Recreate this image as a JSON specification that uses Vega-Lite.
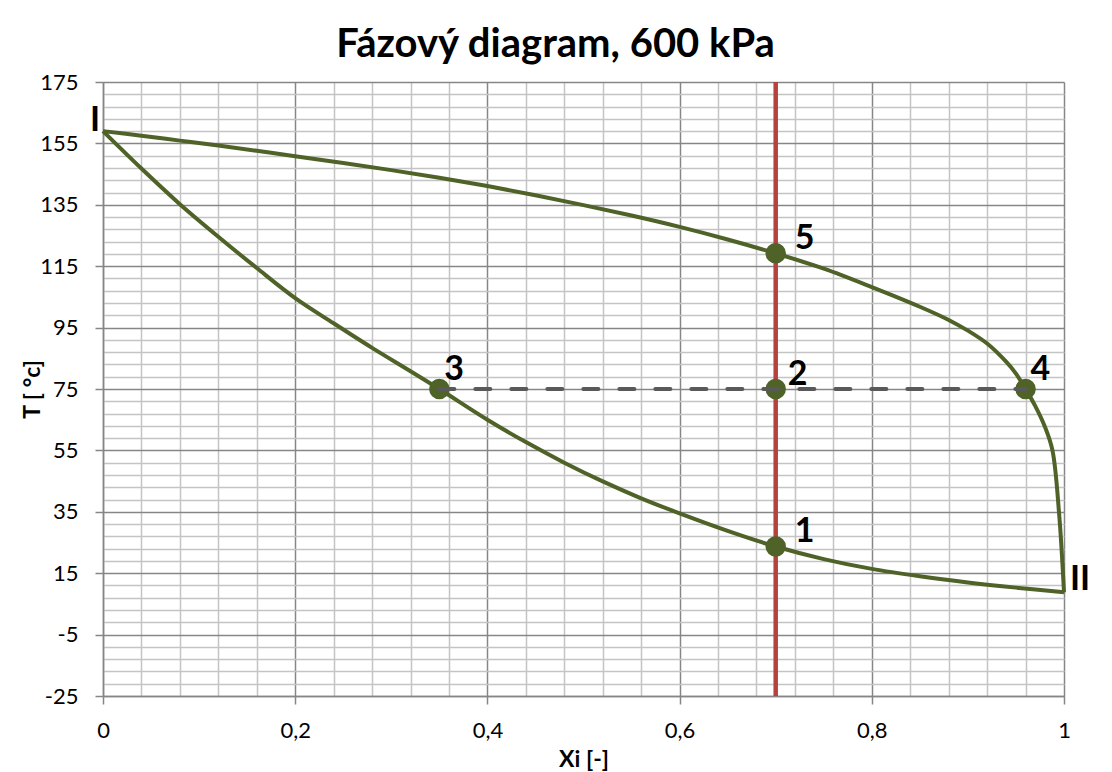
{
  "$schema": "https://vega.github.io/schema/vega-lite/v6.json",
  "autosize": {"type": "none"},
  "width": 961,
  "height": 614,
  "padding": {"left": 103, "top": 82, "right": 48, "bottom": 76},
  "background": "white",
  "title": {
    "text": "Fázový diagram, 600 kPa",
    "font": "Lato",
    "fontSize": 40,
    "fontWeight": "bold",
    "color": "#000000",
    "offset": 6,
    "frame": "bounds",
    "anchor": "middle"
  },
  "config": {"view": {"stroke": null}, "font": "Lato"},
  "datasets": {
    "curves": [
      {"curve": "lower", "x": 0, "T": 159},
      {"curve": "lower", "x": 0.04, "T": 146.8},
      {"curve": "lower", "x": 0.08, "T": 135.2},
      {"curve": "lower", "x": 0.12, "T": 124.6},
      {"curve": "lower", "x": 0.16, "T": 114.4},
      {"curve": "lower", "x": 0.2, "T": 104.6},
      {"curve": "lower", "x": 0.24, "T": 96.4},
      {"curve": "lower", "x": 0.28, "T": 88.4},
      {"curve": "lower", "x": 0.32, "T": 80.8},
      {"curve": "lower", "x": 0.35, "T": 75},
      {"curve": "lower", "x": 0.4, "T": 65.0},
      {"curve": "lower", "x": 0.44, "T": 57.7},
      {"curve": "lower", "x": 0.48, "T": 51.0},
      {"curve": "lower", "x": 0.52, "T": 44.9},
      {"curve": "lower", "x": 0.56, "T": 39.4},
      {"curve": "lower", "x": 0.6, "T": 34.5},
      {"curve": "lower", "x": 0.65, "T": 28.8},
      {"curve": "lower", "x": 0.7, "T": 23.7},
      {"curve": "lower", "x": 0.75, "T": 19.6},
      {"curve": "lower", "x": 0.8, "T": 16.4},
      {"curve": "lower", "x": 0.85, "T": 14.0},
      {"curve": "lower", "x": 0.9, "T": 12.0},
      {"curve": "lower", "x": 0.95, "T": 10.3},
      {"curve": "lower", "x": 1, "T": 8.8},
      {"curve": "upper", "x": 0, "T": 159},
      {"curve": "upper", "x": 0.04, "T": 157.5},
      {"curve": "upper", "x": 0.08, "T": 155.9},
      {"curve": "upper", "x": 0.12, "T": 154.3},
      {"curve": "upper", "x": 0.16, "T": 152.6},
      {"curve": "upper", "x": 0.2, "T": 150.8},
      {"curve": "upper", "x": 0.25, "T": 148.6},
      {"curve": "upper", "x": 0.3, "T": 146.3},
      {"curve": "upper", "x": 0.35, "T": 143.8},
      {"curve": "upper", "x": 0.4, "T": 141.1},
      {"curve": "upper", "x": 0.45, "T": 138.1},
      {"curve": "upper", "x": 0.5, "T": 134.9},
      {"curve": "upper", "x": 0.55, "T": 131.5},
      {"curve": "upper", "x": 0.6, "T": 127.8},
      {"curve": "upper", "x": 0.65, "T": 123.7},
      {"curve": "upper", "x": 0.7, "T": 119.2},
      {"curve": "upper", "x": 0.75, "T": 114.2},
      {"curve": "upper", "x": 0.8, "T": 108.2},
      {"curve": "upper", "x": 0.85, "T": 101.8},
      {"curve": "upper", "x": 0.88, "T": 97.5},
      {"curve": "upper", "x": 0.9, "T": 94.0},
      {"curve": "upper", "x": 0.92, "T": 89.8},
      {"curve": "upper", "x": 0.94, "T": 83.8},
      {"curve": "upper", "x": 0.95, "T": 80.0},
      {"curve": "upper", "x": 0.96, "T": 75},
      {"curve": "upper", "x": 0.97, "T": 69.5},
      {"curve": "upper", "x": 0.98, "T": 62.8},
      {"curve": "upper", "x": 0.988, "T": 55},
      {"curve": "upper", "x": 0.995, "T": 34},
      {"curve": "upper", "x": 1, "T": 8.8}
    ],
    "points": [
      {"label": "1", "x": 0.7, "T": 23.7},
      {"label": "2", "x": 0.7, "T": 75},
      {"label": "3", "x": 0.35, "T": 75},
      {"label": "4", "x": 0.96, "T": 75},
      {"label": "5", "x": 0.7, "T": 119.2}
    ],
    "ends": [
      {"label": "I", "x": 0, "T": 159},
      {"label": "II", "x": 1, "T": 8.8}
    ],
    "tie": [
      {"x": 0.35, "T": 75},
      {"x": 0.96, "T": 75}
    ],
    "composition": [
      {"x": 0.7}
    ]
  },
  "encoding": {
    "x": {
      "field": "x",
      "type": "quantitative",
      "scale": {"domain": [0, 1], "nice": false, "zero": false},
      "axis": {
        "title": "Xi [-]",
        "titleFont": "Lato",
        "titleFontSize": 23,
        "titleFontWeight": "bold",
        "titleColor": "#000000",
        "titleBaseline": "middle",
        "titleY": 63,
        "values": [0, 0.04, 0.08, 0.12, 0.16, 0.2, 0.24, 0.28, 0.32, 0.36, 0.4, 0.44, 0.48, 0.52, 0.56, 0.6, 0.64, 0.68, 0.72, 0.76, 0.8, 0.84, 0.88, 0.92, 0.96, 1],
        "labelExpr": "abs(datum.value*5 - round(datum.value*5)) < 0.000001 ? replace(format(datum.value, '~g'), '.', ',') : ''",
        "labelFont": "Lato",
        "labelFontSize": 22,
        "labelColor": "#000000",
        "labelPadding": 16,
        "labelOverlap": false,
        "labelBound": false,
        "labelFlush": false,
        "tickSize": 8,
        "tickWidth": 1.5,
        "tickColor": "#868686",
        "tickOpacity": {"condition": {"test": "abs(datum.value*5 - round(datum.value*5)) < 0.000001", "value": 1}, "value": 0},
        "domainColor": "#868686",
        "domainWidth": 1.5,
        "grid": true,
        "gridColor": {"condition": {"test": "abs(datum.value*5 - round(datum.value*5)) < 0.000001", "value": "#868686"}, "value": "#C4C4C4"},
        "gridWidth": 1.5
      }
    },
    "y": {
      "field": "T",
      "type": "quantitative",
      "scale": {"domain": [-25, 175], "nice": false, "zero": false},
      "axis": {
        "title": "T [ °c]",
        "titleFont": "Lato",
        "titleFontSize": 23,
        "titleFontWeight": "bold",
        "titleColor": "#000000",
        "titleBaseline": "middle",
        "titleX": -71,
        "values": [-25, -21, -17, -13, -9, -5, -1, 3, 7, 11, 15, 19, 23, 27, 31, 35, 39, 43, 47, 51, 55, 59, 63, 67, 71, 75, 79, 83, 87, 91, 95, 99, 103, 107, 111, 115, 119, 123, 127, 131, 135, 139, 143, 147, 151, 155, 159, 163, 167, 171, 175],
        "labelExpr": "abs((datum.value + 25) % 20) < 0.001 ? '' + datum.value : ''",
        "labelFont": "Lato",
        "labelFontSize": 22,
        "labelColor": "#000000",
        "labelPadding": 17,
        "labelOverlap": false,
        "labelBound": false,
        "labelFlush": false,
        "tickSize": 8,
        "tickWidth": 1.5,
        "tickColor": "#868686",
        "tickOpacity": {"condition": {"test": "abs((datum.value + 25) % 20) < 0.001", "value": 1}, "value": 0},
        "domainColor": "#868686",
        "domainWidth": 1.5,
        "grid": true,
        "gridColor": {"condition": {"test": "abs((datum.value + 25) % 20) < 0.001", "value": "#868686"}, "value": "#C4C4C4"},
        "gridWidth": 1.5
      }
    }
  },
  "layer": [
    {
      "data": {"name": "composition"},
      "mark": {"type": "rule", "color": "#B5423C", "strokeWidth": 4.5},
      "encoding": {"y": null}
    },
    {
      "data": {"name": "curves"},
      "mark": {"type": "line", "color": "#4F6228", "strokeWidth": 4, "interpolate": "catmull-rom", "clip": false},
      "encoding": {"detail": {"field": "curve"}, "order": {"field": "x", "type": "quantitative"}}
    },
    {
      "data": {"name": "points"},
      "mark": {"type": "circle", "color": "#4F6228", "opacity": 1, "size": 420}
    },
    {
      "data": {"name": "tie"},
      "mark": {"type": "line", "color": "#595959", "strokeWidth": 4, "strokeDash": [15, 21], "strokeCap": "round"},
      "encoding": {}
    },
    {
      "data": {"name": "points"},
      "transform": [{"filter": "datum.label == '1' || datum.label == '5'"}],
      "mark": {"type": "text", "font": "Lato", "fontSize": 34, "fontWeight": "bold", "color": "#000000", "align": "left", "baseline": "middle", "dx": 19, "dy": -14},
      "encoding": {"text": {"field": "label"}}
    },
    {
      "data": {"name": "points"},
      "transform": [{"filter": "datum.label == '2'"}],
      "mark": {"type": "text", "font": "Lato", "fontSize": 34, "fontWeight": "bold", "color": "#000000", "align": "left", "baseline": "middle", "dx": 12, "dy": -14},
      "encoding": {"text": {"field": "label"}}
    },
    {
      "data": {"name": "points"},
      "transform": [{"filter": "datum.label == '3' || datum.label == '4'"}],
      "mark": {"type": "text", "font": "Lato", "fontSize": 34, "fontWeight": "bold", "color": "#000000", "align": "left", "baseline": "middle", "dx": 5, "dy": -19},
      "encoding": {"text": {"field": "label"}}
    },
    {
      "data": {"name": "ends"},
      "transform": [{"filter": "datum.label == 'I'"}],
      "mark": {"type": "text", "font": "Lato", "fontSize": 34, "fontWeight": "bold", "color": "#000000", "align": "right", "baseline": "middle", "dx": -3, "dy": -10},
      "encoding": {"text": {"field": "label"}}
    },
    {
      "data": {"name": "ends"},
      "transform": [{"filter": "datum.label == 'II'"}],
      "mark": {"type": "text", "font": "Lato", "fontSize": 34, "fontWeight": "bold", "color": "#000000", "align": "left", "baseline": "middle", "dx": 6, "dy": -12},
      "encoding": {"text": {"field": "label"}}
    }
  ]
}
